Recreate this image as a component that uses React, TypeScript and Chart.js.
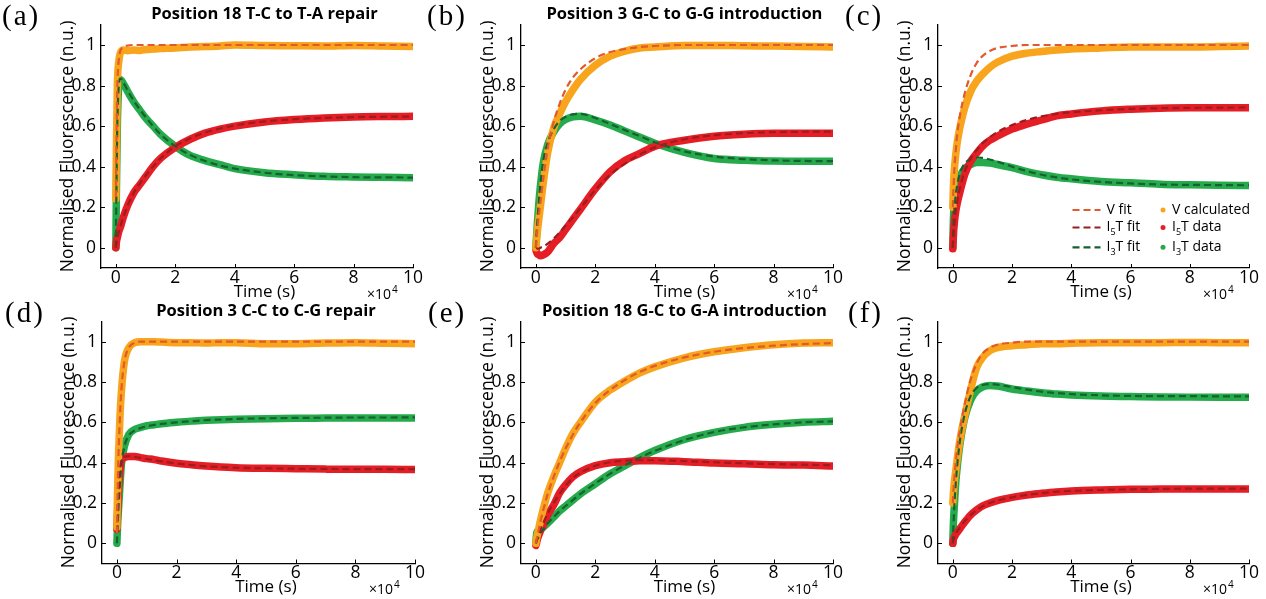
import { useEffect, useRef } from 'react';
import { Chart, registerables } from 'chart.js';

Chart.register(...registerables);

const SANS = '"Open Sans", "Noto Sans", sans-serif';
const SERIF = '"Liberation Serif", "DejaVu Serif", serif';

const ORANGE = '#F8A41C';
const RED = '#E51E26';
const GREEN = '#25AB4B';
const V_FIT_COLOR = '#E2592B';
const I5_FIT_COLOR = '#9C1C20';
const I3_FIT_COLOR = '#17602F';

// time in seconds
const TIME_S = [0, 200, 500, 1000, 1500, 2500, 4000, 6000, 8000, 10000, 12500, 15000, 20000, 25000, 30000, 35000, 40000, 50000, 60000, 70000, 80000, 90000, 100000];

const X_TICK_VALUES = [0, 20000, 40000, 60000, 80000, 100000];
const X_TICK_LABELS = ['0', '2', '4', '6', '8', '10'];
const Y_TICK_VALUES = [0, 0.2, 0.4, 0.6, 0.8, 1];
const Y_TICK_LABELS = ['0', '0.2', '0.4', '0.6', '0.8', '1'];
const X_TITLE = 'Time (s)';
const Y_TITLE = 'Normalised Fluorescence (n.u.)';

// (a) Position 18 T-C to T-A repair
const A_V_DATA = [0.24, 0.5, 0.8, 0.92, 0.96, 0.975, 0.972, 0.975, 0.973, 0.978, 0.98, 0.982, 0.985, 0.99, 0.992, 0.995, 1.0, 0.997, 0.996, 0.995, 0.998, 0.995, 0.992];
const A_V_FIT = [0.25, 0.52, 0.8, 0.93, 0.97, 0.99, 0.997, 1, 1, 1, 1, 1, 1, 1, 1, 1, 1, 1, 1, 1, 1, 1, 1];
const A_I5_DATA = [0, 0.03, 0.05, 0.08, 0.1, 0.15, 0.21, 0.27, 0.31, 0.35, 0.4, 0.44, 0.495, 0.535, 0.565, 0.585, 0.6, 0.62, 0.632, 0.64, 0.645, 0.647, 0.648];
const A_I5_FIT = [0, 0.02, 0.045, 0.08, 0.105, 0.15, 0.21, 0.27, 0.315, 0.355, 0.4, 0.44, 0.5, 0.54, 0.568, 0.588, 0.603, 0.623, 0.634, 0.64, 0.644, 0.646, 0.647];
const A_I3_DATA = [0, 0.3, 0.6, 0.8, 0.83, 0.81, 0.77, 0.72, 0.68, 0.64, 0.6, 0.56, 0.5, 0.455, 0.43, 0.41, 0.39, 0.37, 0.36, 0.352, 0.349, 0.347, 0.345];
const A_I3_FIT = [0, 0.3, 0.62, 0.8, 0.835, 0.815, 0.775, 0.725, 0.683, 0.645, 0.6, 0.56, 0.5, 0.458, 0.428, 0.405, 0.39, 0.37, 0.358, 0.352, 0.348, 0.347, 0.346];

// (b) Position 3 G-C to G-G introduction
const B_V_DATA = [0, 0.03, 0.08, 0.14, 0.2, 0.32, 0.47, 0.59, 0.66, 0.72, 0.78, 0.83, 0.9, 0.945, 0.97, 0.985, 0.99, 0.998, 0.998, 0.996, 0.995, 0.993, 0.99];
const B_V_FIT = [0, 0.04, 0.09, 0.16, 0.22, 0.34, 0.49, 0.62, 0.71, 0.78, 0.84, 0.88, 0.935, 0.965, 0.98, 0.99, 0.995, 1, 1, 1, 1, 1, 1];
const B_I5_DATA = [-0.01, -0.02, -0.03, -0.035, -0.04, -0.035, -0.02, 0.02, 0.05, 0.09, 0.14, 0.19, 0.29, 0.375, 0.43, 0.465, 0.5, 0.53, 0.55, 0.56, 0.565, 0.565, 0.565];
const B_I5_FIT = [0, 0, -0.005, -0.005, 0, 0.005, 0.02, 0.045, 0.075, 0.11, 0.15, 0.195, 0.285, 0.36, 0.415, 0.46, 0.495, 0.535, 0.555, 0.565, 0.57, 0.572, 0.573];
const B_I3_DATA = [0, 0.05, 0.12, 0.22, 0.3, 0.42, 0.51, 0.57, 0.61, 0.632, 0.645, 0.648, 0.63, 0.605, 0.575, 0.545, 0.515, 0.47, 0.44, 0.432, 0.428, 0.427, 0.427];
const B_I3_FIT = [0, 0.06, 0.13, 0.23, 0.31, 0.43, 0.52, 0.585, 0.625, 0.645, 0.658, 0.66, 0.64, 0.61, 0.58, 0.55, 0.52, 0.475, 0.45, 0.437, 0.431, 0.428, 0.427];

// (c)
const C_V_DATA = [0.2, 0.3, 0.38, 0.46, 0.52, 0.6, 0.69, 0.77, 0.82, 0.855, 0.89, 0.915, 0.945, 0.96, 0.968, 0.975, 0.98, 0.985, 0.99, 0.99, 0.99, 0.992, 0.995];
const C_V_FIT = [0.2, 0.28, 0.38, 0.48, 0.56, 0.66, 0.76, 0.85, 0.91, 0.945, 0.97, 0.985, 0.995, 1, 1, 1, 1, 1, 1, 1, 1, 1, 1];
const C_I5_DATA = [-0.005, 0.06, 0.12, 0.18, 0.22, 0.28, 0.36, 0.425, 0.465, 0.5, 0.53, 0.55, 0.585, 0.61, 0.63, 0.65, 0.66, 0.675, 0.683, 0.688, 0.69, 0.69, 0.69];
const C_I5_FIT = [0, 0.05, 0.11, 0.18, 0.23, 0.3, 0.375, 0.44, 0.48, 0.515, 0.545, 0.57, 0.605, 0.63, 0.648, 0.66, 0.668, 0.678, 0.685, 0.688, 0.69, 0.691, 0.692];
const C_I3_DATA = [0, 0.14, 0.21, 0.27, 0.31, 0.355, 0.39, 0.41, 0.42, 0.42, 0.418, 0.41, 0.395, 0.375, 0.36, 0.348, 0.34, 0.327, 0.32, 0.313, 0.31, 0.308, 0.307];
const C_I3_FIT = [0, 0.1, 0.18, 0.26, 0.31, 0.37, 0.415, 0.438, 0.445, 0.443, 0.435, 0.425, 0.4, 0.378, 0.36, 0.347, 0.337, 0.325, 0.317, 0.312, 0.31, 0.309, 0.308];

// (d) Position 3 C-C to C-G repair
const D_V_DATA = [0.08, 0.25, 0.42, 0.62, 0.75, 0.9, 0.97, 0.995, 1.0, 1.0, 1.0, 0.998, 0.995, 0.995, 0.993, 0.995, 0.995, 0.99, 0.99, 0.993, 0.995, 0.992, 0.99];
const D_V_FIT = [0.05, 0.22, 0.42, 0.62, 0.76, 0.9, 0.97, 0.995, 1, 1, 1, 1, 1, 1, 1, 1, 1, 1, 1, 1, 1, 1, 1];
const D_I5_DATA = [0.07, 0.15, 0.25, 0.36, 0.41, 0.425, 0.43, 0.43, 0.425, 0.42, 0.415, 0.408, 0.397, 0.39, 0.383, 0.378, 0.375, 0.372, 0.37, 0.368, 0.367, 0.367, 0.366];
const D_I5_FIT = [0.05, 0.14, 0.25, 0.36, 0.41, 0.43, 0.432, 0.428, 0.423, 0.418, 0.412, 0.406, 0.396, 0.388, 0.382, 0.378, 0.375, 0.372, 0.37, 0.369, 0.368, 0.368, 0.368];
const D_I3_DATA = [0, 0.08, 0.16, 0.28, 0.39, 0.48, 0.54, 0.565, 0.575, 0.583, 0.588, 0.593, 0.6, 0.606, 0.61, 0.613, 0.615, 0.618, 0.62, 0.621, 0.622, 0.622, 0.622];
const D_I3_FIT = [0, 0.08, 0.17, 0.29, 0.39, 0.48, 0.535, 0.56, 0.572, 0.58, 0.587, 0.592, 0.6, 0.606, 0.611, 0.614, 0.617, 0.62, 0.622, 0.623, 0.624, 0.624, 0.625];

// (e) Position 18 G-C to G-A introduction
const E_V_DATA = [0, 0.02, 0.04, 0.075, 0.11, 0.17, 0.25, 0.33, 0.4, 0.47, 0.545, 0.6, 0.7, 0.76, 0.805, 0.845, 0.875, 0.92, 0.95, 0.97, 0.985, 0.993, 0.995];
const E_V_FIT = [0, 0.015, 0.035, 0.07, 0.105, 0.165, 0.245, 0.33, 0.405, 0.47, 0.54, 0.6, 0.695, 0.76, 0.81, 0.85, 0.88, 0.922, 0.95, 0.968, 0.98, 0.988, 0.993];
const E_I5_DATA = [-0.01, 0.0, 0.02, 0.04, 0.06, 0.09, 0.14, 0.19, 0.25, 0.29, 0.33, 0.355, 0.385, 0.4, 0.405, 0.41, 0.41, 0.405, 0.398, 0.395, 0.39, 0.388, 0.383];
const E_I5_FIT = [0, 0.01, 0.025, 0.045, 0.065, 0.1, 0.15, 0.2, 0.245, 0.285, 0.325, 0.35, 0.385, 0.402, 0.41, 0.412, 0.412, 0.408, 0.402, 0.397, 0.393, 0.39, 0.387];
const E_I3_DATA = [0, 0.04, 0.06, 0.065, 0.07, 0.08, 0.1, 0.13, 0.16, 0.185, 0.215, 0.245, 0.295, 0.345, 0.385, 0.425, 0.46, 0.515, 0.55, 0.575, 0.59, 0.6, 0.605];
const E_I3_FIT = [0, 0.01, 0.02, 0.035, 0.05, 0.07, 0.1, 0.13, 0.16, 0.185, 0.215, 0.245, 0.297, 0.345, 0.387, 0.425, 0.458, 0.512, 0.552, 0.575, 0.59, 0.6, 0.605];

// (f)
const F_V_DATA = [0.2, 0.25, 0.3, 0.36, 0.42, 0.52, 0.63, 0.76, 0.87, 0.92, 0.955, 0.97, 0.98, 0.985, 0.99, 0.99, 0.992, 0.995, 0.995, 0.995, 0.996, 0.995, 0.995];
const F_V_FIT = [0.2, 0.26, 0.32, 0.4, 0.47, 0.57, 0.69, 0.81, 0.89, 0.94, 0.97, 0.985, 0.995, 1, 1, 1, 1, 1, 1, 1, 1, 1, 1];
const F_I5_DATA = [0, 0.02, 0.03, 0.045, 0.055, 0.075, 0.105, 0.14, 0.165, 0.185, 0.2, 0.212, 0.228, 0.24, 0.248, 0.255, 0.26, 0.265, 0.268, 0.269, 0.27, 0.27, 0.27];
const F_I5_FIT = [0, 0.015, 0.03, 0.045, 0.06, 0.08, 0.11, 0.14, 0.165, 0.183, 0.2, 0.212, 0.228, 0.24, 0.249, 0.256, 0.26, 0.265, 0.268, 0.27, 0.271, 0.271, 0.272];
const F_I3_DATA = [0, 0.1, 0.18, 0.3, 0.38, 0.5, 0.62, 0.71, 0.755, 0.775, 0.783, 0.78, 0.765, 0.755, 0.747, 0.74, 0.735, 0.73, 0.728, 0.726, 0.725, 0.725, 0.725];
const F_I3_FIT = [0, 0.08, 0.18, 0.3, 0.39, 0.52, 0.64, 0.73, 0.77, 0.785, 0.79, 0.787, 0.775, 0.762, 0.752, 0.745, 0.74, 0.734, 0.731, 0.73, 0.73, 0.729, 0.729];

type PanelSpec = {
  key: string;
  letter: string;
  title: string;
  CL: number; CT: number; CW: number; CH: number;
  PL: number; PR: number; PT: number; PB: number;
  letterDX: number;
  legend: boolean;
  v: number[]; vFit: number[];
  i5: number[]; i5Fit: number[];
  i3: number[]; i3Fit: number[];
};

const ROW1 = { CT: 0, CH: 300, PT: 24.7, PB: 268 };
const ROW2 = { CT: 295, CH: 304, PT: 321.5, PB: 563.5 };

const PANELS: PanelSpec[] = [
  { key: 'a', letter: '(a)', title: 'Position 18 T-C to T-A repair', ...ROW1, CL: 0, CW: 428, PL: 101, PR: 413, letterDX: -99, legend: false,
    v: A_V_DATA, vFit: A_V_FIT, i5: A_I5_DATA, i5Fit: A_I5_FIT, i3: A_I3_DATA, i3Fit: A_I3_FIT },
  { key: 'b', letter: '(b)', title: 'Position 3 G-C to G-G introduction', ...ROW1, CL: 420, CW: 428, PL: 521, PR: 833, letterDX: -94, legend: false,
    v: B_V_DATA, vFit: B_V_FIT, i5: B_I5_DATA, i5Fit: B_I5_FIT, i3: B_I3_DATA, i3Fit: B_I3_FIT },
  { key: 'c', letter: '(c)', title: '', ...ROW1, CL: 837, CW: 429, PL: 938, PR: 1249, letterDX: -93, legend: true,
    v: C_V_DATA, vFit: C_V_FIT, i5: C_I5_DATA, i5Fit: C_I5_FIT, i3: C_I3_DATA, i3Fit: C_I3_FIT },
  { key: 'd', letter: '(d)', title: 'Position 3 C-C to C-G repair', ...ROW2, CL: 1, CW: 428, PL: 102, PR: 415, letterDX: -97, legend: false,
    v: D_V_DATA, vFit: D_V_FIT, i5: D_I5_DATA, i5Fit: D_I5_FIT, i3: D_I3_DATA, i3Fit: D_I3_FIT },
  { key: 'e', letter: '(e)', title: 'Position 18 G-C to G-A introduction', ...ROW2, CL: 420, CW: 428, PL: 521, PR: 833, letterDX: -93, legend: false,
    v: E_V_DATA, vFit: E_V_FIT, i5: E_I5_DATA, i5Fit: E_I5_FIT, i3: E_I3_DATA, i3Fit: E_I3_FIT },
  { key: 'f', letter: '(f)', title: '', ...ROW2, CL: 837, CW: 429, PL: 938, PR: 1249, letterDX: -90, legend: false,
    v: F_V_DATA, vFit: F_V_FIT, i5: F_I5_DATA, i5Fit: F_I5_FIT, i3: F_I3_DATA, i3Fit: F_I3_FIT },
];

function makeDataset(label: string, values: number[], color: string, fit: boolean) {
  return {
    label,
    order: fit ? 0 : 1,
    data: TIME_S.map((t, i) => ({ x: t, y: values[i] })),
    borderColor: color,
    backgroundColor: color,
    borderWidth: fit ? 2.2 : 7.5,
    borderDash: fit ? [7, 4] : [],
    pointRadius: 0,
    pointHoverRadius: 0,
    cubicInterpolationMode: 'monotone',
    borderCapStyle: fit ? 'butt' : 'round',
    borderJoinStyle: 'round',
    fill: false,
  };
}

function drawRich(ctx: CanvasRenderingContext2D, x: number, y: number, main: string, sub: string, rest: string) {
  ctx.textAlign = 'left';
  ctx.textBaseline = 'middle';
  ctx.font = `14px ${SANS}`;
  ctx.fillText(main, x, y);
  let cx = x + ctx.measureText(main).width;
  if (sub) {
    ctx.font = `9px ${SANS}`;
    ctx.fillText(sub, cx, y + 5);
    cx += ctx.measureText(sub).width;
    ctx.font = `14px ${SANS}`;
    ctx.fillText(rest, cx, y);
  }
}

const LEGEND_FITS = [
  { color: V_FIT_COLOR, main: 'V fit', sub: '', rest: '' },
  { color: I5_FIT_COLOR, main: 'I', sub: '5', rest: 'T fit' },
  { color: I3_FIT_COLOR, main: 'I', sub: '3', rest: 'T fit' },
];
const LEGEND_DATA = [
  { color: ORANGE, main: 'V calculated', sub: '', rest: '' },
  { color: RED, main: 'I', sub: '5', rest: 'T data' },
  { color: GREEN, main: 'I', sub: '3', rest: 'T data' },
];
const LEGEND_ROW_DY = [-58, -40.5, -20.7];

function decoPlugin(p: PanelSpec) {
  return {
    id: 'deco_' + p.key,
    afterDraw(chart: any) {
      const ctx: CanvasRenderingContext2D = chart.ctx;
      const a = chart.chartArea;
      const xs = chart.scales.x;
      const ys = chart.scales.y;
      ctx.save();
      ctx.strokeStyle = '#000';
      ctx.lineWidth = 1;
      Y_TICK_VALUES.forEach((v) => {
        const y = Math.round(ys.getPixelForValue(v)) + 0.5;
        ctx.beginPath();
        ctx.moveTo(a.left, y);
        ctx.lineTo(a.left + 4, y);
        ctx.stroke();
      });
      X_TICK_VALUES.forEach((v) => {
        const x = Math.round(xs.getPixelForValue(v)) + 0.5;
        ctx.beginPath();
        ctx.moveTo(x, a.bottom);
        ctx.lineTo(x, a.bottom - 4);
        ctx.stroke();
      });
      ctx.fillStyle = '#000';
      ctx.textBaseline = 'middle';
      ctx.textAlign = 'left';
      ctx.font = `29px ${SERIF}`;
      (ctx as any).letterSpacing = '2px';
      ctx.fillText(p.letter, a.left + p.letterDX, a.top - 7);
      (ctx as any).letterSpacing = '0px';
      const xMid = xs.getPixelForValue(50000);
      if (p.title) {
        ctx.font = `bold 16.5px ${SANS}`;
        ctx.textAlign = 'center';
        ctx.fillText(p.title, xMid, a.top - 10);
      }
      ctx.font = `17px ${SANS}`;
      ctx.textAlign = 'center';
      ctx.fillText(X_TITLE, xMid, a.bottom + 24);
      ctx.textAlign = 'left';
      ctx.font = `14px ${SANS}`;
      const ex = a.right - 46;
      ctx.fillText('×10', ex, a.bottom + 27);
      const w = ctx.measureText('×10').width;
      ctx.font = `10px ${SANS}`;
      ctx.fillText('4', ex + w + 1, a.bottom + 22);
      if (p.legend) {
        LEGEND_FITS.forEach((it, i) => {
          const y = a.bottom + LEGEND_ROW_DY[i];
          ctx.strokeStyle = it.color;
          ctx.lineWidth = 2.2;
          ctx.setLineDash([7, 4]);
          ctx.beginPath();
          ctx.moveTo(a.right - 176.5, y);
          ctx.lineTo(a.right - 148.5, y);
          ctx.stroke();
          ctx.setLineDash([]);
          ctx.fillStyle = '#000';
          drawRich(ctx, a.right - 142.5, y, it.main, it.sub, it.rest);
        });
        LEGEND_DATA.forEach((it, i) => {
          const y = a.bottom + LEGEND_ROW_DY[i];
          ctx.fillStyle = it.color;
          ctx.beginPath();
          ctx.arc(a.right - 86, y, 2.5, 0, Math.PI * 2);
          ctx.fill();
          ctx.fillStyle = '#000';
          drawRich(ctx, a.right - 77, y, it.main, it.sub, it.rest);
        });
      }
      ctx.restore();
    },
  };
}

function makeConfig(p: PanelSpec): any {
  const yAxisWidth = p.PL - p.CL;
  const xAxisHeight = p.CH - (p.PB - p.CT);
  return {
    type: 'line',
    data: {
      datasets: [
        makeDataset('V calculated', p.v, ORANGE, false),
        makeDataset('I5T data', p.i5, RED, false),
        makeDataset('I3T data', p.i3, GREEN, false),
        makeDataset('V fit', p.vFit, V_FIT_COLOR, true),
        makeDataset('I5T fit', p.i5Fit, I5_FIT_COLOR, true),
        makeDataset('I3T fit', p.i3Fit, I3_FIT_COLOR, true),
      ],
    },
    options: {
      animation: false,
      responsive: false,
      maintainAspectRatio: false,
      events: [],
      layout: { padding: { left: 0, top: p.PT - p.CT, right: p.CL + p.CW - p.PR, bottom: 0 } },
      plugins: { legend: { display: false }, tooltip: { enabled: false }, title: { display: false } },
      scales: {
        x: {
          type: 'linear',
          min: -5000,
          max: 100000,
          grid: { display: false, drawTicks: false },
          border: { display: true, color: '#000', width: 1.3 },
          afterBuildTicks: (s: any) => { s.ticks = X_TICK_VALUES.map((v) => ({ value: v })); },
          afterFit: (s: any) => { s.height = xAxisHeight; s.paddingLeft = 0; s.paddingRight = 0; },
          ticks: {
            autoSkip: false,
            maxRotation: 0,
            padding: 1,
            color: '#000',
            font: { family: SANS, size: 17.5, lineHeight: 1 },
            callback: (_v: any, i: number) => X_TICK_LABELS[i],
          },
        },
        y: {
          type: 'linear',
          min: -0.1,
          max: 1.1,
          grid: { display: false, drawTicks: false },
          border: { display: true, color: '#000', width: 1.3 },
          afterBuildTicks: (s: any) => { s.ticks = Y_TICK_VALUES.map((v) => ({ value: v })); },
          afterFit: (s: any) => { s.width = yAxisWidth; s.paddingTop = 0; s.paddingBottom = 0; },
          ticks: {
            autoSkip: false,
            padding: 5,
            color: '#000',
            font: { family: SANS, size: 17.5, lineHeight: 1 },
            callback: (_v: any, i: number) => Y_TICK_LABELS[i],
          },
          title: {
            display: true,
            text: Y_TITLE,
            color: '#000',
            font: { family: SANS, size: 17.5, lineHeight: 1 },
            padding: { top: 59, bottom: 0 },
          },
        },
      },
    },
    plugins: [decoPlugin(p)],
  };
}

function Panel({ spec }: { spec: PanelSpec }) {
  const ref = useRef<HTMLCanvasElement>(null);
  useEffect(() => {
    const chart = new Chart(ref.current as HTMLCanvasElement, makeConfig(spec));
    return () => chart.destroy();
  }, [spec]);
  return (
    <canvas
      ref={ref}
      width={spec.CW}
      height={spec.CH}
      style={{ position: 'absolute', left: spec.CL, top: spec.CT, width: spec.CW, height: spec.CH }}
    />
  );
}

export default function App() {
  return (
    <div style={{ position: 'fixed', left: 0, top: 0, width: 1266, height: 599, background: '#fff', overflow: 'hidden' }}>
      {PANELS.map((p) => (
        <Panel key={p.key} spec={p} />
      ))}
    </div>
  );
}
